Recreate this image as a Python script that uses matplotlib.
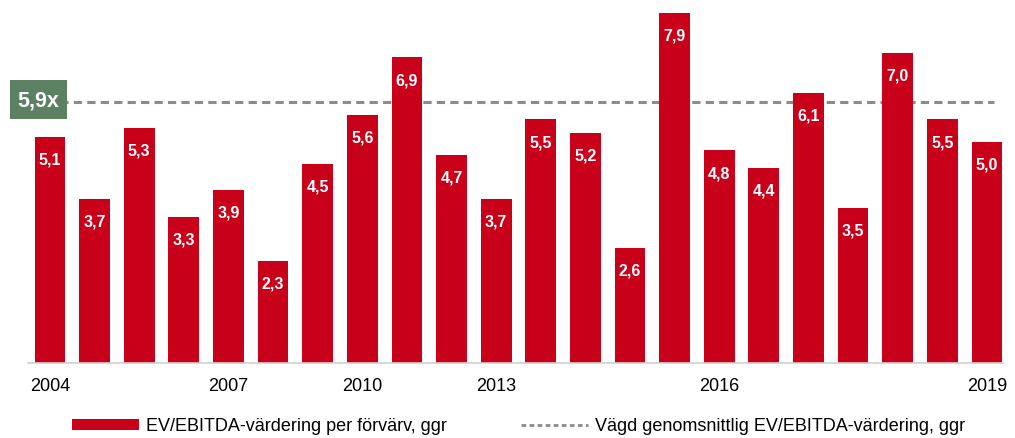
import matplotlib.pyplot as plt
from matplotlib.patches import Patch, Rectangle
from matplotlib.lines import Line2D

# --- Data ---
values = [5.1, 3.7, 5.3, 3.3, 3.9, 2.3, 4.5, 5.6, 6.9, 4.7, 3.7,
          5.5, 5.2, 2.6, 7.9, 4.8, 4.4, 6.1, 3.5, 7.0, 5.5, 5.0]
tick_pos = [0, 4, 7, 10, 15, 21]
tick_labels = ['2004', '2007', '2010', '2013', '2016', '2019']
average = 5.9

red = '#C8001A'
green = '#5B8062'
grey = '#8C8C8C'

plt.rcParams['font.family'] = ['Liberation Sans', 'DejaVu Sans']

fig = plt.figure(figsize=(10.15, 4.39), dpi=100)
ax = fig.add_axes([28 / 1015, 75 / 439, 975 / 1015, 364 / 439])

x = list(range(len(values)))
ax.bar(x, values, width=0.69, color=red, zorder=2)

# value labels inside the bars
for i, v in enumerate(values):
    ax.text(i, v - 0.5, f"{v:.1f}".replace('.', ','), ha='center', va='center',
            color='white', fontsize=11.5, fontweight='bold', zorder=3)

# weighted average line
ax.plot([-0.39, 21.15], [average, average], color=grey, linestyle=(0, (2.7, 1.7)),
        linewidth=2.2, zorder=1)
fig.patches.append(Rectangle((10 / 1015, 1 - 120 / 439), 57 / 1015, 39 / 439,
                             transform=fig.transFigure, facecolor=green,
                             edgecolor='none'))
fig.text(38.5 / 1015, 1 - 101 / 439, f"{average:.1f}".replace('.', ',') + 'x',
         ha='center', va='center', color='white', fontsize=15.5, fontweight='bold')

# --- Formatting ---
ax.set_xlim(-0.493, 21.36)
ax.set_ylim(0, 8.22)
ax.set_xticks(tick_pos)
ax.set_xticklabels(tick_labels, fontsize=13)
ax.tick_params(axis='x', length=0, pad=10)
ax.set_yticks([])
for s in ['top', 'right', 'left']:
    ax.spines[s].set_visible(False)
ax.spines['bottom'].set_color('#D0D0D0')
ax.spines['bottom'].set_linewidth(1.2)

handles = [Patch(facecolor=red, edgecolor='none'),
           Line2D([0], [0], color=grey, linestyle=(0, (1.7, 1.2)), linewidth=2)]
labels = ['EV/EBITDA-värdering per förvärv, ggr',
          'Vägd genomsnittlig EV/EBITDA-värdering, ggr']
fig.legend(handles, labels, loc='center', bbox_to_anchor=(519 / 1015, 1 - 427 / 439),
           ncol=2, frameon=False, fontsize=13, handlelength=3.7, handleheight=0.55,
           handletextpad=0.4, columnspacing=4.1, borderpad=0, borderaxespad=0)

plt.savefig('out.png', dpi=100)
